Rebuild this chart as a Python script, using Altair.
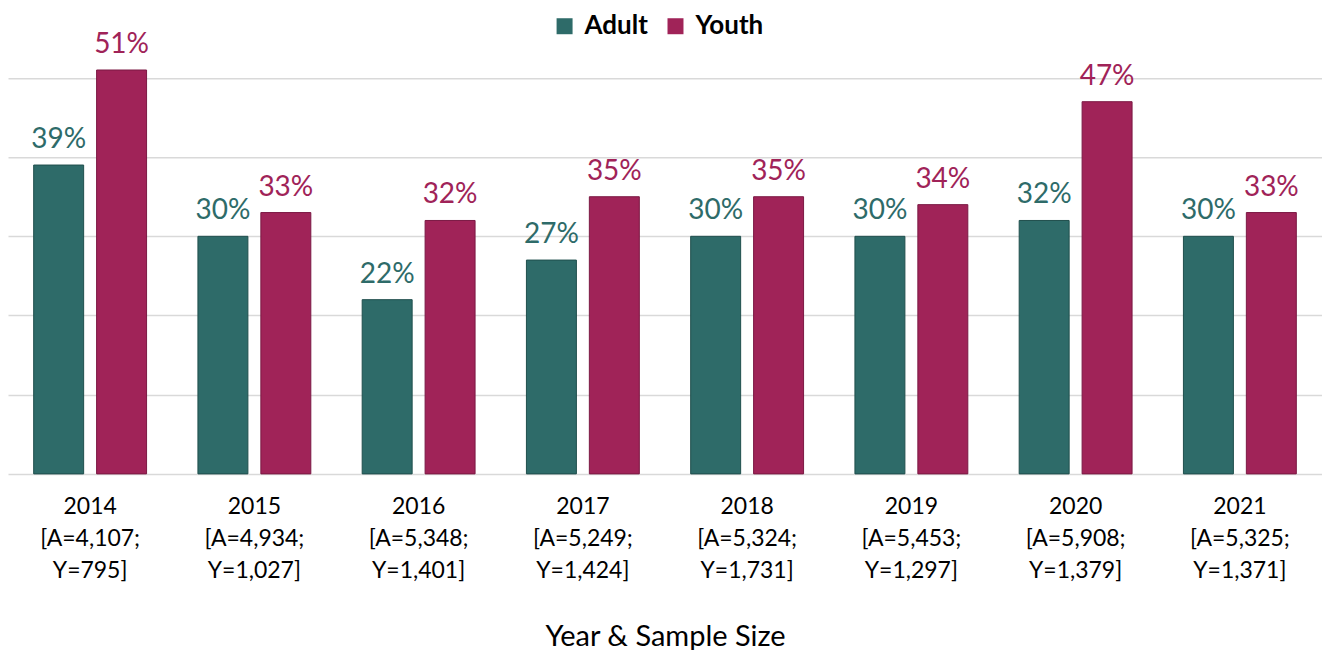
import altair as alt
import pandas as pd

years = ["2014", "2015", "2016", "2017", "2018", "2019", "2020", "2021"]
sample_a = ["4,107", "4,934", "5,348", "5,249", "5,324", "5,453", "5,908", "5,325"]
sample_y = ["795", "1,027", "1,401", "1,424", "1,731", "1,297", "1,379", "1,371"]
adult = [39, 30, 22, 27, 30, 30, 32, 30]
youth = [51, 33, 32, 35, 35, 34, 47, 33]
groups = ["Adult", "Youth"]
colors = ["#2E6B69", "#A02358"]
edge_colors = ["#1F4E4C", "#7A1843"]

rows = []
for i, yr in enumerate(years):
    cat = f"{yr}|[A={sample_a[i]};|Y={sample_y[i]}]"
    rows.append({"cat": cat, "group": "Adult", "value": adult[i]})
    rows.append({"cat": cat, "group": "Youth", "value": youth[i]})
df = pd.DataFrame(rows)
cat_order = [f"{yr}|[A={sample_a[i]};|Y={sample_y[i]}]" for i, yr in enumerate(years)]

FONT = "Lato"
W = 1315
H = 466
YMAX = 58.8

x = alt.X("cat:N", sort=cat_order,
          scale=alt.Scale(paddingInner=0, paddingOuter=0),
          axis=alt.Axis(title="Year & Sample Size", labelExpr="split(datum.label, '|')",
                        labelAngle=0, labelFontSize=23, labelColor="#000000",
                        labelLineHeight=32, labelBaseline="top", labelPadding=22,
                        domain=False, ticks=False, grid=False,
                        titleFontSize=29, titleFontWeight="normal", titleColor="#000000",
                        titlePadding=40, labelFont=FONT, titleFont=FONT))
xo = alt.XOffset("group:N", sort=groups,
                 scale=alt.Scale(paddingInner=0.206, paddingOuter=0.408))
y = alt.Y("value:Q", scale=alt.Scale(domain=[0, YMAX], nice=False, zero=True),
          axis=alt.Axis(values=[0, 10, 20, 30, 40, 50], labels=False, ticks=False,
                        domain=False, title=None, grid=True, gridColor="#D9D9D9",
                        gridWidth=1.5))

bars = alt.Chart(df).mark_bar(strokeWidth=1).encode(
    x=x, xOffset=xo, y=y,
    color=alt.Color("group:N", sort=groups,
                    scale=alt.Scale(domain=groups, range=colors),
                    legend=alt.Legend(title=None, orient="none", legendX=544, legendY=5,
                                      direction="horizontal", symbolType="square",
                                      symbolSize=256, symbolStrokeWidth=0,
                                      labelFontSize=26, labelFontWeight="bold",
                                      labelFont=FONT, labelColor="#000000",
                                      columnPadding=14, labelOffset=7)),
    stroke=alt.Stroke("group:N", scale=alt.Scale(domain=groups, range=edge_colors),
                      legend=None),
)

labels = alt.Chart(df).transform_calculate(
    lbl="datum.value + '%'"
).mark_text(fontSize=28, font=FONT, baseline="alphabetic", dy=-17).encode(
    x=x, xOffset=xo, y=y,
    text="lbl:N",
    color=alt.Color("group:N", sort=groups,
                    scale=alt.Scale(domain=groups, range=colors), legend=None),
)

chart = alt.layer(bars, labels).properties(
    width=W, height=H, padding=0, background="#FFFFFF"
).configure_view(stroke=None)

chart.save("out.html", embed_options={"renderer": "svg", "actions": False})
